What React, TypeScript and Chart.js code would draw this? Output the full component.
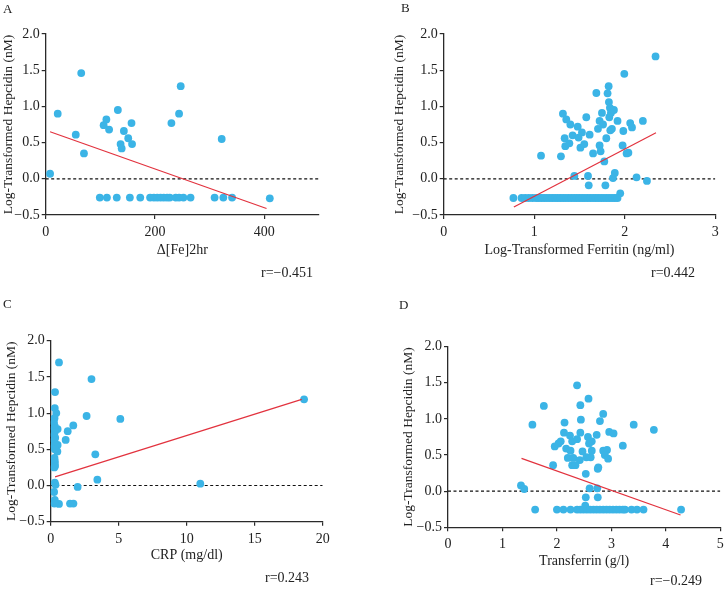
import React, { useEffect, useRef } from "react";
import { Chart, registerables } from "chart.js";

Chart.register(...registerables);
Chart.defaults.font.family = '"Liberation Serif", "Times New Roman", serif';
Chart.defaults.color = "#222";

const BLUE = "#3bb4e6";
const RED = "#e2323e";

// shared y axis
const yTicks = [-0.5, 0, 0.5, 1.0, 1.5, 2.0];
const yTickLabels = ["\u22120.5", "0.0", "0.5", "1.0", "1.5", "2.0"];
const yTitle = "Log-Transformed Hepcidin (nM)";

// ---------- Panel A ----------
const aXTicks = [0, 200, 400];
const aX = [8, 22, 65, 55, 70, 106, 111, 116, 132, 137, 139, 143, 151, 157, 158, 230, 244, 247, 322, 410,
  99, 112, 130, 154, 173, 191, 198, 204, 210, 216, 222, 227, 238, 244, 252, 265, 309, 325, 341];
const aY = [0.07, 0.9, 1.46, 0.61, 0.35, 0.74, 0.82, 0.68, 0.95, 0.48, 0.42, 0.66, 0.56, 0.77, 0.48, 0.77, 0.9, 1.28, 0.55, -0.27,
  -0.26, -0.26, -0.26, -0.26, -0.26, -0.26, -0.26, -0.26, -0.26, -0.26, -0.26, -0.26, -0.26, -0.26, -0.26, -0.26, -0.26, -0.26, -0.26];
const aFitX = [8, 404];
const aFitY = [0.65, -0.41];

// ---------- Panel B ----------
const bXTicks = [0, 1, 2, 3];
const bX = [1.075, 1.295, 1.317, 1.354, 1.336, 1.343, 1.388, 1.399, 1.424, 1.48, 1.49, 1.527, 1.51, 1.553, 1.575, 1.612, 1.65, 1.686,
  1.704, 1.722, 1.733, 1.722, 1.748, 1.76, 1.774, 1.796, 1.81, 1.822, 1.825, 1.829, 1.836, 1.847, 1.84, 1.858, 1.88, 1.92, 1.976,
  1.984, 1.995, 2.02, 2.04, 2.06, 2.08, 2.2, 2.34,
  1.443, 1.594, 1.602, 1.786, 1.87, 1.89, 2.13, 2.245, 1.95,
  0.77, 0.86, 0.9, 0.94, 0.98, 1.02, 1.05, 1.08, 1.11, 1.14, 1.17, 1.2, 1.23, 1.26, 1.29, 1.32, 1.35, 1.38, 1.41, 1.44, 1.47,
  1.5, 1.53, 1.56, 1.59, 1.62, 1.65, 1.68, 1.71, 1.74, 1.77, 1.8, 1.83, 1.86, 1.89, 1.92];
const bY = [0.32, 0.31, 0.9, 0.82, 0.56, 0.45, 0.49, 0.75, 0.6, 0.72, 0.57, 0.64, 0.43, 0.48, 0.85, 0.61, 0.35, 1.185,
  0.69, 0.46, 0.38, 0.8, 0.91, 0.75, 0.24, 0.56, 1.18, 1.28, 1.06, 0.85, 0.98, 0.91, 0.67, 0.69, 0.95, 0.8, 0.46,
  0.66, 1.45, 0.35, 0.36, 0.77, 0.71, 0.8, 1.69,
  0.04, 0.04, -0.09, -0.09, 0.01, 0.08, 0.02, -0.03, -0.2,
  -0.265, -0.265, -0.265, -0.265, -0.265, -0.265, -0.265, -0.265, -0.265, -0.265, -0.265, -0.265, -0.265, -0.265, -0.265,
  -0.265, -0.265, -0.265, -0.265, -0.265, -0.265, -0.265, -0.265, -0.265, -0.265, -0.265, -0.265, -0.265, -0.265, -0.265,
  -0.265, -0.265, -0.265, -0.265, -0.265, -0.265];
const bFitX = [0.775, 2.345];
const bFitY = [-0.39, 0.635];

// ---------- Panel C ----------
const cXTicks = [0, 5, 10, 15, 20];
const cX = [0.61, 3.0, 0.32, 0.3, 0.41, 2.64, 5.12, 18.63, 1.66, 1.25, 0.51, 1.1, 0.51, 0.49, 3.28, 3.43, 11.0, 1.98, 1.42, 1.67, 0.61,
  0.28, 0.24, 0.3, 0.26, 0.3, 0.25, 0.33, 0.27, 0.3, 0.26, 0.3, 0.28, 0.3, 0.3, 0.32, 0.26, 0.3, 0.35, 0.25, 0.3, 0.27];
const cY = [1.7, 1.47, 1.29, 1.07, 1.0, 0.96, 0.92, 1.19, 0.83, 0.75, 0.78, 0.63, 0.56, 0.47, 0.43, 0.08, 0.025, -0.02, -0.25, -0.25, -0.255,
  0.93, 0.87, 0.82, 0.79, 0.74, 0.7, 0.66, 0.63, 0.58, 0.54, 0.5, 0.38, 0.34, 0.31, 0.27, 0.25, 0.04, 0.01, -0.09, -0.2, -0.25];
const cFitX = [0.32, 18.46];
const cFitY = [0.12, 1.19];

// ---------- Panel D ----------
const dXTicks = [0, 1, 2, 3, 4, 5];
const dX = [2.37, 2.58, 1.76, 2.43, 2.85, 2.44, 2.79, 1.55, 2.14, 3.41, 3.78, 2.96, 3.04, 2.43, 2.13, 2.24, 2.57, 2.73, 2.07, 2.03,
  1.96, 2.28, 2.37, 2.64, 2.59, 2.17, 2.25, 2.47, 2.64, 2.85, 2.92, 3.21, 2.2, 2.3, 2.42, 2.54, 2.62, 2.88, 2.94, 1.93, 2.28,
  2.34, 2.76, 2.75, 2.53, 1.34, 1.4, 2.6, 2.74, 2.53, 2.75, 2.52, 1.6, 4.28,
  2.0, 2.12, 2.25, 2.37, 2.43, 2.49, 2.55, 2.61, 2.67, 2.73, 2.79, 2.85, 2.91, 2.97, 3.03, 3.09, 3.15, 3.21, 3.25, 3.37, 3.47, 3.59];
const dY = [1.465, 1.28, 1.18, 1.19, 1.07, 0.99, 0.97, 0.92, 0.95, 0.92, 0.85, 0.82, 0.8, 0.81, 0.81, 0.77, 0.75, 0.78, 0.69, 0.66,
  0.62, 0.69, 0.72, 0.69, 0.66, 0.59, 0.56, 0.55, 0.56, 0.56, 0.57, 0.63, 0.46, 0.46, 0.43, 0.47, 0.47, 0.5, 0.45, 0.36, 0.36,
  0.36, 0.33, 0.31, 0.24, 0.08, 0.03, 0.04, 0.04, -0.085, -0.085, -0.2, -0.255, -0.255,
  -0.255, -0.255, -0.255, -0.255, -0.255, -0.255, -0.255, -0.255, -0.255, -0.255, -0.255, -0.255, -0.255, -0.255, -0.255,
  -0.255, -0.255, -0.255, -0.255, -0.255, -0.255, -0.255];
const dFitX = [1.35, 4.27];
const dFitY = [0.455, -0.33];

type PanelDef = {
  letter: string; letterPos: [number, number];
  rText: string; rPos: [number, number];
  xTitle: string; xMax: number; xTicks: number[];
  xs: number[]; ys: number[]; fitX: number[]; fitY: number[];
  area: { l: number; r: number; t: number; b: number };
  yTitleCx: number; xTitleCy: number;
};

const panels: PanelDef[] = [
  { letter: "A", letterPos: [3, 13], rText: "r=\u22120.451", rPos: [261, 277], xTitle: "\u0394[Fe]2hr", xMax: 500, xTicks: aXTicks,
    xs: aX, ys: aY, fitX: aFitX, fitY: aFitY, area: { l: 45.7, r: 319, t: 34, b: 215 }, yTitleCx: 8, xTitleCy: 250 },
  { letter: "B", letterPos: [401, 12], rText: "r=0.442", rPos: [651, 277], xTitle: "Log-Transformed Ferritin (ng/ml)", xMax: 3, xTicks: bXTicks,
    xs: bX, ys: bY, fitX: bFitX, fitY: bFitY, area: { l: 443.7, r: 715.3, t: 34, b: 215 }, yTitleCx: 399, xTitleCy: 250 },
  { letter: "C", letterPos: [3, 308], rText: "r=0.243", rPos: [265, 582], xTitle: "CRP (mg/dl)", xMax: 20, xTicks: cXTicks,
    xs: cX, ys: cY, fitX: cFitX, fitY: cFitY, area: { l: 50.7, r: 322.7, t: 340.7, b: 521.7 }, yTitleCx: 11, xTitleCy: 555 },
  { letter: "D", letterPos: [399, 309], rText: "r=\u22120.249", rPos: [650, 585], xTitle: "Transferrin (g/l)", xMax: 5, xTicks: dXTicks,
    xs: dX, ys: dY, fitX: dFitX, fitY: dFitY, area: { l: 448, r: 720.3, t: 346.7, b: 527.3 }, yTitleCx: 408.7, xTitleCy: 561.7 },
];

const W = 724;
const H = 590;
const Y_TITLE_SIZE = 13.5;
const X_TITLE_SIZE = 14;

function makeConfig(p: PanelDef): any {
  const yLh = Y_TITLE_SIZE * 1.2;
  const xLh = X_TITLE_SIZE * 1.2;
  const padLeft = p.yTitleCx - yLh / 2;
  const yw = p.area.l - padLeft;
  const xh = p.xTitleCy + xLh / 2 - p.area.b;
  const padBottom = H - p.area.b - xh;
  const points = p.xs.map((x, i) => ({ x, y: p.ys[i] }));
  const fit = p.fitX.map((x, i) => ({ x, y: p.fitY[i] }));
  const axisCommon = {
    border: { display: true, color: "#2a2a2a", width: 1.3 },
    grid: { drawOnChartArea: false, drawTicks: true, tickLength: 4, color: "#2a2a2a", lineWidth: 1.2 },
  };
  const labelsPlugin = {
    id: "panelLabels",
    afterDraw(chart: any) {
      const ctx = chart.ctx;
      ctx.save();
      ctx.fillStyle = "#222";
      ctx.textBaseline = "alphabetic";
      ctx.textAlign = "left";
      ctx.font = '13px "Liberation Serif", serif';
      ctx.fillText(p.letter, p.letterPos[0], p.letterPos[1]);
      ctx.font = '14px "Liberation Serif", serif';
      ctx.fillText(p.rText, p.rPos[0], p.rPos[1]);
      ctx.restore();
    },
  };
  return {
    type: "scatter",
    data: {
      datasets: [
        { type: "line", data: [{ x: 0, y: 0 }, { x: p.xMax, y: 0 }], borderColor: "#111", borderWidth: 1.2,
          borderDash: [3, 2.5], pointRadius: 0, order: 3 },
        { data: points, backgroundColor: BLUE, borderWidth: 0, pointRadius: 3.9, order: 2 },
        { type: "line", data: fit, borderColor: RED, borderWidth: 1.2, pointRadius: 0, order: 1 },
      ],
    },
    options: {
      animation: false,
      responsive: false,
      devicePixelRatio: 1,
      events: [],
      layout: { autoPadding: false, padding: { left: padLeft, right: W - p.area.r, top: p.area.t, bottom: padBottom } },
      plugins: { legend: { display: false }, tooltip: { enabled: false } },
      scales: {
        x: {
          type: "linear", min: 0, max: p.xMax, ...axisCommon,
          afterBuildTicks: (s: any) => { s.ticks = p.xTicks.map((v) => ({ value: v })); },
          afterFit: (s: any) => { s.height = xh; s.paddingLeft = 0; s.paddingRight = 0; },
          ticks: { padding: 5, color: "#222", font: { size: 14 }, maxRotation: 0, autoSkip: false,
            callback: (v: number, i: number) => String(p.xTicks[i]) },
          title: { display: true, text: p.xTitle, font: { size: X_TITLE_SIZE }, color: "#222", padding: 0 },
        },
        y: {
          type: "linear", min: -0.5, max: 2.0, ...axisCommon,
          afterBuildTicks: (s: any) => { s.ticks = yTicks.map((v) => ({ value: v })); },
          afterFit: (s: any) => { s.width = yw; s.paddingTop = 0; s.paddingBottom = 0; },
          ticks: { padding: 2, color: "#222", font: { size: 14 }, autoSkip: false,
            callback: (v: number, i: number) => yTickLabels[i] },
          title: { display: true, text: yTitle, font: { size: Y_TITLE_SIZE }, color: "#222", padding: 0 },
        },
      },
    },
    plugins: [labelsPlugin],
  };
}

function Panel({ def }: { def: PanelDef }) {
  const ref = useRef<HTMLCanvasElement>(null);
  useEffect(() => {
    const chart = new Chart(ref.current as HTMLCanvasElement, makeConfig(def));
    return () => chart.destroy();
  }, [def]);
  return (
    <canvas ref={ref} width={W} height={H}
      style={{ position: "absolute", left: 0, top: 0, width: W, height: H }} />
  );
}

export default function App() {
  return (
    <div style={{ position: "absolute", left: 0, top: 0, width: W, height: H, background: "#fff" }}>
      {panels.map((p) => (
        <Panel key={p.letter} def={p} />
      ))}
    </div>
  );
}
